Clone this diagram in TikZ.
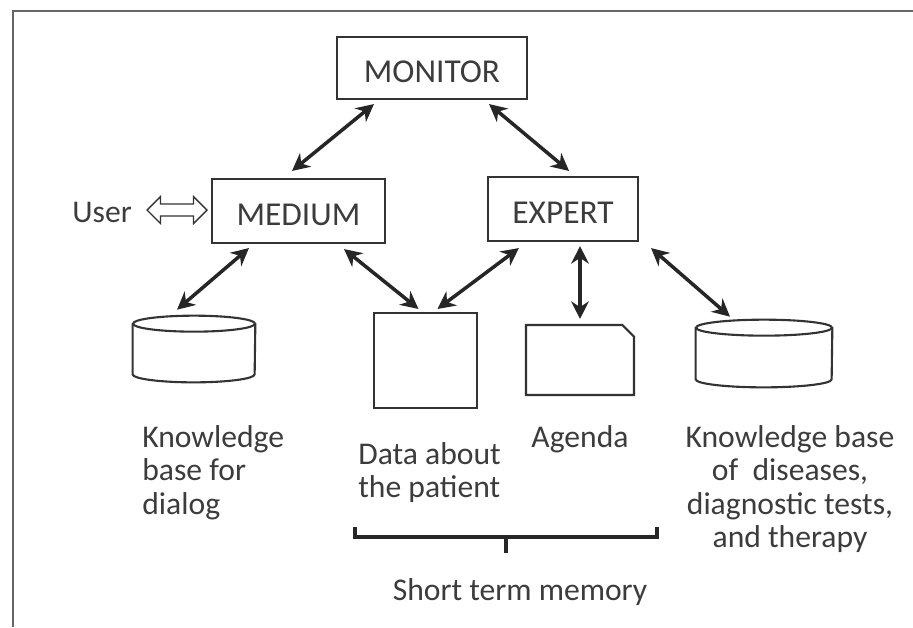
\documentclass[tikz,border=0pt]{standalone}
\usepackage{fontspec}
\setmainfont{Carlito}
\usetikzlibrary{arrows.meta, shapes.misc, shapes.arrows}

\definecolor{ink}{HTML}{333333}
\definecolor{txt}{HTML}{3C3C3C}

\begin{document}
\begin{tikzpicture}[x=0.02cm, y=-0.02cm, every node/.style={text=txt}]
    \tikzset{
        box/.style={rectangle, draw=ink, line width=1.2pt, inner sep=0pt,
            font=\fontsize{19}{22}\selectfont, text height=17pt, text depth=0pt},
        drum/.style={rectangle, inner sep=0pt},
        drumline/.style={draw=ink, line width=1.2pt},
        lbl/.style={font=\fontsize{18}{19}\selectfont, inner sep=0pt},
        link/.style={{Stealth[length=10pt,width=10pt]}-{Stealth[length=10pt,width=10pt]},
            line width=2pt, black!85}
    }
    \useasboundingbox (0,0) rectangle (913,627);

    % FRAME
    \draw[black!60, line width=0.8pt] (13,627) -- (13,11) -- (913,11);

    % AGENTS
    \node[box, minimum width=3.8cm, minimum height=1.24cm] (mon) at (432,68) {MONITOR};
    \node[box, minimum width=3.46cm, minimum height=1.28cm] (med) at (298.5,211) {MEDIUM};
    \node[box, minimum width=3cm, minimum height=1.28cm] (exp) at (563,209) {EXPERT};

    % USER
    \node[lbl, anchor=base west] (usr) at (72,222) {User};
    \node[double arrow, draw=ink, line width=0.8pt, inner sep=3pt,
        minimum height=1.2cm, double arrow head extend=0.15cm] (uarr) at (177,210) {};

    % STORES
    \node[drum, minimum width=2.44cm, minimum height=1.32cm] (kbd) at (194,349) {};
    \draw[drumline] ([yshift=-0.16cm]kbd.north) ellipse [x radius=1.22cm, y radius=0.16cm];
    \draw[drumline] ([yshift=-0.16cm]kbd.north west) -- ([yshift=0.16cm]kbd.south west)
        arc[start angle=180, end angle=360, x radius=1.22cm, y radius=0.16cm]
        -- ([yshift=-0.16cm]kbd.north east);

    \node[rectangle, draw=ink, line width=1.2pt, minimum width=2.06cm, minimum height=1.9cm] (dat) at (425.5,360.5) {};
    \node[chamfered rectangle, chamfered rectangle corners=north east,
        chamfered rectangle xsep=0.22cm, chamfered rectangle ysep=0.22cm,
        draw=ink, line width=1.2pt, minimum width=2.16cm, minimum height=1.4cm] (agd) at (580,360) {};

    \node[drum, minimum width=2.72cm, minimum height=1.34cm] (kbt) at (764,353.5) {};
    \draw[drumline] ([yshift=-0.16cm]kbt.north) ellipse [x radius=1.36cm, y radius=0.16cm];
    \draw[drumline] ([yshift=-0.16cm]kbt.north west) -- ([yshift=0.16cm]kbt.south west)
        arc[start angle=180, end angle=360, x radius=1.36cm, y radius=0.16cm]
        -- ([yshift=-0.16cm]kbt.north east);

    % LABELS
    \node[lbl, align=left, anchor=north west] (kbdtxt) at (142,425) {Knowledge\\base for\\dialog};
    \node[lbl, align=left, anchor=north west] (dattxt) at (358,442) {Data about\\the patient};
    \node[lbl, anchor=base] (agdtxt) at (580,447) {Agenda};
    \node[lbl, align=center, anchor=north] (kbttxt) at (790,425) {Knowledge base\\of\ \ diseases,\\diagnostic tests,\\and therapy};
    \node[lbl, anchor=base] (stm) at (520,600) {Short term memory};

    % LINKS
    \draw[link] ([shift={(38,4)}]mon.south west) -- ([shift={(81,-7)}]med.north west);
    \draw[link] ([shift={(-39,4)}]mon.south east) -- ([shift={(-70,-5)}]exp.north east);
    \draw[link] ([shift={(38,4)}]med.south west) -- ([shift={(-17,-6)}]kbd.north);
    \draw[link] ([shift={(-42,5)}]med.south east) -- ([shift={(-7,-3)}]dat.north);
    \draw[link] ([shift={(32,6)}]exp.south west) -- ([shift={(12,-3)}]dat.north);
    \draw[link] ([shift={(17,4)}]exp.south) -- ([shift={(0,-5)}]agd.north);
    \draw[link] ([shift={(12,6)}]exp.south east) -- ([shift={(-34,-3)}]kbt.north);

    % SHORT TERM MEMORY BRACKET
    \draw[black!85, line width=2pt] (355,527) -- (355,537) -- (657,537) -- (657,527)
        (506,537) -- (506,553);

\end{tikzpicture}
\end{document}
